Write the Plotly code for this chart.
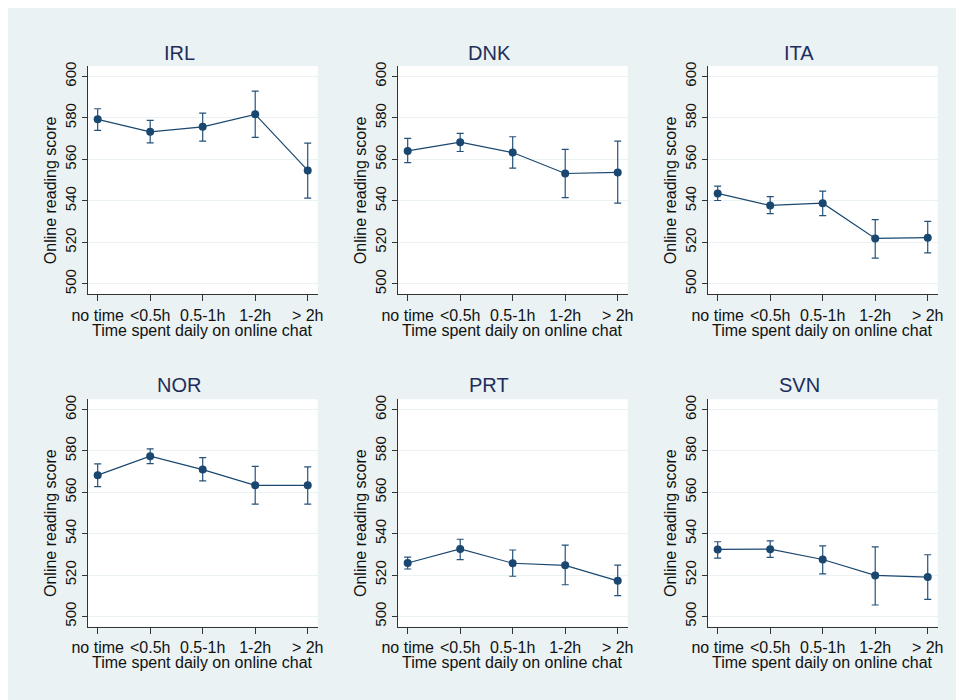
import plotly.graph_objects as go

categories = ["no time", "<0.5h", "0.5-1h", "1-2h", "> 2h"]
countries = ["IRL", "DNK", "ITA", "NOR", "PRT", "SVN"]

irl_mean = [579.3, 573.3, 575.7, 581.7, 554.7]
irl_hi = [584.4, 578.8, 582.3, 592.9, 567.8]
irl_lo = [574.0, 568.0, 568.8, 570.6, 541.3]

dnk_mean = [564.1, 568.3, 563.3, 553.2, 553.7]
dnk_hi = [570.1, 572.5, 570.9, 564.8, 568.8]
dnk_lo = [558.4, 563.8, 555.8, 541.6, 538.9]

ita_mean = [543.6, 537.8, 538.9, 521.9, 522.3]
ita_hi = [547.1, 542.1, 544.7, 531.0, 530.1]
ita_lo = [540.2, 533.9, 532.9, 512.4, 515.0]

nor_mean = [568.3, 577.5, 571.0, 563.4, 563.4]
nor_hi = [573.8, 581.0, 576.8, 572.6, 572.3]
nor_lo = [562.8, 573.9, 565.5, 554.3, 554.3]

prt_mean = [525.8, 532.6, 525.7, 524.7, 517.2]
prt_hi = [528.7, 537.3, 532.1, 534.5, 524.8]
prt_lo = [522.9, 527.4, 519.4, 515.3, 510.0]

svn_mean = [532.4, 532.5, 527.5, 519.8, 519.0]
svn_hi = [536.1, 536.5, 534.1, 533.6, 529.8]
svn_lo = [528.2, 528.5, 520.6, 505.5, 508.2]

y_ticks = [500, 520, 540, 560, 580, 600]
y_title = "Online reading score"
x_title = "Time spent daily on online chat"

series = [
    (irl_mean, irl_hi, irl_lo),
    (dnk_mean, dnk_hi, dnk_lo),
    (ita_mean, ita_hi, ita_lo),
    (nor_mean, nor_hi, nor_lo),
    (prt_mean, prt_hi, prt_lo),
    (svn_mean, svn_hi, svn_lo),
]

W, H = 956, 700
EDGE = 8  # white strip at top and left of the reference image
NAVY = "#1A476F"
BG = "#EAF2F3"
FONT = "Liberation Sans, Arial, sans-serif"

col_px = [(87.7, 317.7), (397.7, 627.7), (707.7, 937.7)]
row_px = [(66.0, 294.3), (399.3, 626.7)]
title_x_px = [179, 489, 799]
title_y_px = [52.7, 385.0]

def px(xp):
    return xp / W

def py(yp):
    return 1 - yp / H

fig = go.Figure()
annotations = []
layout_axes = {}

for i, (name, (m, hi, lo)) in enumerate(zip(countries, series)):
    r, c = divmod(i, 3)
    sfx = "" if i == 0 else str(i + 1)
    xa, ya = "x" + sfx, "y" + sfx
    plus = [h - v for h, v in zip(hi, m)]
    minus = [v - l for v, l in zip(m, lo)]
    fig.add_trace(go.Scatter(
        x=categories, y=m, xaxis=xa, yaxis=ya, mode="lines+markers",
        line=dict(color=NAVY, width=1.2),
        marker=dict(color=NAVY, size=8),
        error_y=dict(type="data", symmetric=False, array=plus, arrayminus=minus,
                     color="#24527A", thickness=1.2, width=3.5),
        showlegend=False, hoverinfo="skip",
    ))
    x0, x1 = col_px[c]
    y0, y1 = row_px[r]
    layout_axes["xaxis" + sfx] = dict(
        domain=[px(x0), px(x1)], anchor=ya, type="category", automargin=False,
        range=[-0.19, 4.19], showgrid=False, zeroline=False,
        showline=True, linecolor="#333333", linewidth=1,
        ticks="outside", ticklen=6, tickcolor="#333333", tickwidth=1,
        tickfont=dict(family=FONT, size=16, color="#111111"),
        fixedrange=True,
    )
    layout_axes["yaxis" + sfx] = dict(
        domain=[py(y1), py(y0)], anchor=xa, range=[495, 605], automargin=False,
        tickvals=y_ticks, tickangle=-90,
        showgrid=True, gridcolor=BG, gridwidth=1, zeroline=False,
        showline=True, linecolor="#333333", linewidth=1,
        ticks="outside", ticklen=5, tickcolor="#333333", tickwidth=1,
        tickfont=dict(family=FONT, size=15, color="#111111"),
        fixedrange=True,
    )
    annotations.append(dict(
        text=name, x=px(title_x_px[c]), y=py(title_y_px[r]), xref="paper", yref="paper",
        xanchor="center", yanchor="middle", showarrow=False,
        font=dict(family=FONT, size=20, color="#1E2D5A"),
    ))
    annotations.append(dict(
        text=x_title, x=px((x0 + x1) / 2), y=py(y1 + 36), xref="paper", yref="paper",
        xanchor="center", yanchor="middle", showarrow=False,
        font=dict(family=FONT, size=16, color="#111111"),
    ))
    annotations.append(dict(
        text=y_title, x=px(x0 - 37.7), y=py((y0 + y1) / 2 + 10), xref="paper", yref="paper",
        xanchor="center", yanchor="middle", showarrow=False, textangle=-90,
        font=dict(family=FONT, size=16, color="#111111"),
    ))

shapes = [
    dict(type="rect", xref="paper", yref="paper", x0=0, x1=px(EDGE), y0=0, y1=1,
         fillcolor="white", line=dict(width=0), layer="above"),
    dict(type="rect", xref="paper", yref="paper", x0=0, x1=1, y0=py(EDGE), y1=1,
         fillcolor="white", line=dict(width=0), layer="above"),
]

fig.update_layout(
    template="none",
    width=W, height=H, margin=dict(l=0, r=0, t=0, b=0, pad=0),
    paper_bgcolor=BG, plot_bgcolor="white",
    font=dict(family=FONT),
    annotations=annotations, shapes=shapes, showlegend=False,
    **layout_axes,
)

fig.write_html(
    "out.html",
    config={"displayModeBar": False},
    post_script="document.body.style.margin='0';"
                "document.documentElement.style.overflow='hidden';"
                "document.body.style.overflow='hidden';",
)
